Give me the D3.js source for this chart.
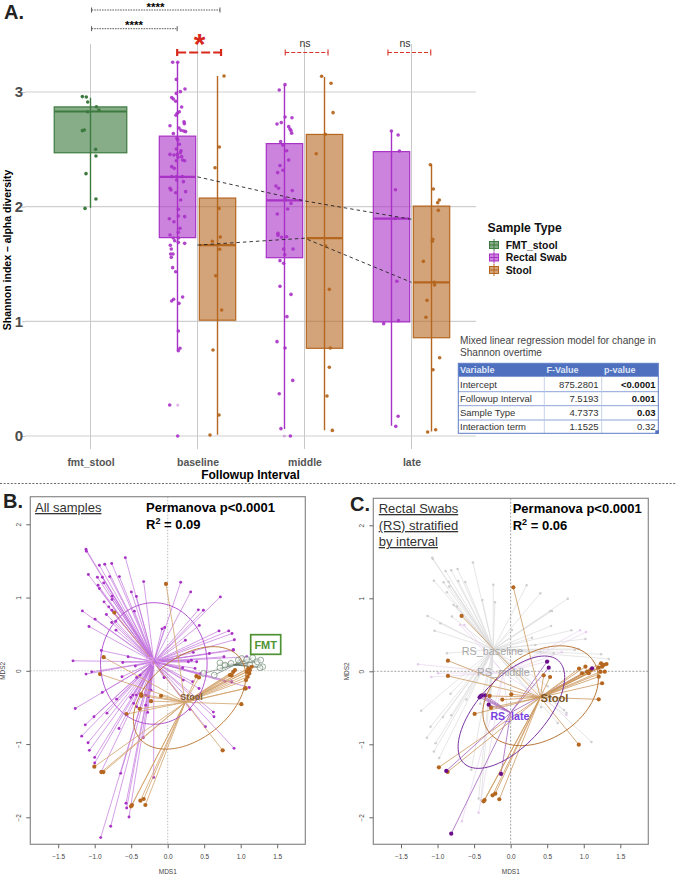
<!DOCTYPE html>
<html><head><meta charset="utf-8">
<script src="https://cdn.jsdelivr.net/npm/d3@7"></script>
<style>html,body{margin:0;padding:0;background:#fff}svg{display:block}text{font-family:"Liberation Sans",Arial,sans-serif}</style>
</head><body><svg id="c" width="676" height="875"></svg>
<script>
/* ---------- Panel A data ---------- */
const categories=['fmt_stool','baseline','middle','late'];
const yTicksA=[0,1,2,3];
const fmtBox={q1:2.47,med:2.83,q3:2.87,lo:1.99,hi:2.95};
const rsQ1=[1.73,1.555,.995], rsMed=[2.26,2.055,1.895], rsQ3=[2.615,2.55,2.48], rsLo=[.745,.06,.09], rsHi=[3.26,3.06,2.66];
const stQ1=[1.01,.765,.857], stMed=[1.665,1.725,1.34], stQ3=[2.075,2.63,2.005], stLo=[.01,.05,.04], stHi=[3.14,3.13,2.37];
const trendRS=[2.26,2.05,1.89], trendStool=[1.665,1.725,1.34];
const fmtPts=[[-.076,2.96],[-.039,2.956],[-.026,2.913],[.055,2.872],[.079,2.843],[-.026,2.828],[-.076,2.663],[-.058,2.669],[.048,2.5],[.051,2.442],[-.042,2.288],[.051,2.067],[-.051,1.985]];
const rsPts=[[.768,3.259],[.815,3.259],[.802,3.11],[.883,3.026],[.84,3.003],[.802,2.988],[.759,2.951],[.774,2.939],[.796,2.919],[.852,2.869],[.83,2.828],[.811,2.814],[.799,2.797],[.874,2.741],[.877,2.724],[.743,2.706],[.827,2.686],[.846,2.666],[.871,2.66],[.889,2.654],[.774,2.637],[.808,2.596],[.815,2.581],[.83,2.544],[.802,2.503],[.846,2.488],[.743,2.456],[.78,2.451],[.84,2.471],[.811,2.456],[.852,2.436],[.818,2.43],[.861,2.407],[.88,2.401],[.802,2.401],[.759,2.349],[.783,2.334],[.759,2.262],[.805,2.262],[.858,2.262],[.805,2.233],[.868,2.218],[.743,2.16],[.752,2.145],[.889,2.131],[.796,2.122],[.843,2.058],[.821,1.977],[.821,1.919],[.88,1.913],[.737,1.895],[.78,1.869],[.836,1.811],[.821,1.776],[.743,1.753],[.774,1.727],[.821,1.727],[.787,1.703],[.821,1.689],[.88,1.68],[.746,1.663],[.755,1.631],[.749,1.587],[.771,1.587],[.755,1.558],[.768,1.468],[.796,1.433],[.861,1.212],[.777,1.192],[.759,1.177],[.827,1.157],[.821,.916],[.836,.765],[.821,.744],[.74,.27],[.815,0],
[1.818,3.064],[1.764,3.017],[1.883,2.776],[1.818,2.782],[1.743,2.721],[1.783,2.733],[1.852,2.698],[1.864,2.677],[1.874,2.663],[1.88,2.64],[1.777,2.567],[1.796,2.538],[1.833,2.488],[1.771,2.358],[1.749,2.297],[1.799,2.317],[1.852,2.407],[1.733,2.18],[1.758,2.16],[1.886,2.14],[1.746,1.936],[1.874,2.029],[1.818,2.073],[1.843,1.98],[1.752,1.767],[1.752,1.75],[1.786,1.733],[1.833,1.738],[1.805,1.631],[1.893,1.631],[1.815,1.581],[1.771,1.529],[1.805,1.506],[1.771,1.305],[1.874,1.235],[1.836,1.041],[1.743,.823],[1.818,.767],[1.89,.485],[1.764,.369],[1.78,.064],[1.868,0],
[2.812,2.66],[2.875,2.625],[2.887,2.485],[2.85,2.148],[2.847,1.898],[2.863,1.349],[2.878,1.006],[2.74,.98],[2.875,.172],[2.853,.084]];
const rsFaint=[[.815,.27],[1.812,0]];
const stPts=[[1.248,3.14],[1.204,2.52],[1.164,2.34],[1.201,1.985],[1.213,1.735],[1.139,1.698],[1.207,1.628],[1.17,1.398],[1.226,1.099],[1.145,.75],[1.201,.183],[1.117,.009],
[2.16,3.137],[2.248,3.076],[2.267,2.82],[2.195,2.631],[2.11,2.462],[2.198,1.657],[2.232,1.279],[2.241,.767],[2.232,.599],[2.21,.349],[2.26,.049],
[3.176,2.366],[3.204,2.154],[3.26,2.058],[3.245,2.035],[3.251,1.968],[3.198,1.715],[3.195,1.698],[3.111,1.523],[3.213,1.34],[3.216,1.317],[3.145,1.183],[3.135,1.035],[3.263,.683],[3.201,.578],[3.151,.035],[3.226,.055]];
const starBrackets=[[.01,1.21,'****'],[.01,.81,'****']];
const redBrackets=[[.81,1.22,'*'],[1.82,2.22,'ns'],[2.78,3.18,'ns']];
const legendNames=['FMT_stool','Rectal Swab','Stool'];
const tableTitle=['Mixed linear regression model for change in','Shannon overtime'];
const tableHead=['Variable','F-Value','p-value'];
const tableVars=['Intercept','Followup Interval','Sample Type','Interaction term'];
const tableF=['875.2801','7.5193','4.7373','1.1525'];
const tableP=['<0.0001','0.001','0.03','0.32'];

/* ---------- Panel B data ---------- */
const mdsTicksX=[-1.5,-1,-.5,0,.5,1,1.5], mdsTicksY=[-2,-1,0,1,2];
const bCenters={rs:[-.19,.123],stool:[.24,-.43],fmt:[.92,.08]};
const bRS=[[-1.119,1.659],[-1.114,1.632],[-.58,1.545],[-.936,1.441],[-.863,1.455],[-.767,1.464],[-1.087,1.314],[-.963,1.277],[-.895,1.277],[-.795,1.286],[-.662,1.286],[-.329,1.218],[.178,1.209],[-.954,1.168],[-.936,1.123],[-.877,1.2],[.315,1.077],[-.498,1.077],[-.429,1.014],[-.763,1.018],[-.763,.973],[-.872,.941],[-1.169,.818],[-.808,.873],[-.763,.827],[-.457,.814],[.42,.832],[.489,.827],[.721,1.009],[-.995,.705],[-.84,.768],[-.767,.659],[-.712,.677],[-1.078,.605],[-.708,.555],[-.041,.591],[-.078,.573],[.703,.545],[.836,.545],[.881,.509],[.242,.418],[.913,.423],[.9,.291],[.571,.236],[-.909,.277],[-.543,.191],[-1.297,.136],[-.616,.114],[-.443,.064],[-1.041,-.014],[-1.119,-.045],[.324,.145],[.397,.123],[.283,.123],[.205,.041],[.433,.62],[.899,.279],[.351,.251],[.771,.191],[1.082,.191],[.374,.033],[.452,-.036],
[-.626,-.082],[-.425,-.09],[-.379,-.059],[-.05,-.09],[-.896,-.295],[-.699,-.387],[-.507,-.363],[-.479,-.332],[-.43,-.332],[-.301,-.332],[-.229,-.264],[-.301,-.469],[-.466,-.445],[-.274,-.568],[-1.266,-.514],[-1.01,-.628],[-.832,-.578],[-1.129,-.738],[-.667,-.787],[-1.178,-.892],[-.334,-.915],[-1.073,-1.086],[-1.091,-.982],[-1,-1.182],[-1,-1.259],[-.909,-1.373],[-.644,-1.4],[-.192,-1.455],[-.571,-1.809],[-.562,-1.873],[-.53,-1.995],[-.781,-2.123],[-.918,-2.277],
[.214,-.127],[.342,-.15],[.785,-.15],[.877,-.15],[1.118,-.227],[.305,-.527],[.625,-.564],[.634,-.628],[.516,-.764],[.909,-1.059],[.429,-.241],[-.046,-.091],[-.425,-.491],[-.265,-.355]];
const bStool=[[-.023,1.186],[-.731,.795],[-.877,.186],[-.927,-.045],[.393,-.073],[.429,-.09],[-.361,-.341],[-.365,-.318],[-.091,-.341],[-.228,-.414],[-.384,-.518],[-.566,-.591],[1.009,-.455],[1.068,-.241],[.753,-1.086],[-1.005,-1.309],[-.909,-1.382],[-.881,-1.382],[-.489,-1.832],[-.502,-1.85],[-.374,-1.773],[-.329,-1.75],[-.306,-1.832],[.899,-.014],[.922,.01],[.877,-.059],[.853,-.059],[1.104,.033],[1.151,.055],[1.127,.01],[1.082,-.014],[1.118,-.036],[1.096,-.082],[1.073,-.127],[1.059,-.24]];
const bFMT=[[.716,.109],[.716,.041],[.785,.078],[.867,.101],[.967,.146],[1.014,.169],[1.082,.156],[1.164,.178],[1.227,.123],[1.274,.146],[1.301,.055],[1.264,.041],[1.127,.078],[.488,-.036],[.638,-.059]];
/* ellipse: centre x, centre y, semi-major, semi-minor, tilt in degrees */
const bEllipseRS=[-.19,.1,.83,.73,90], bEllipseStool=[.3,-.37,.88,.555,38.6];

/* ---------- Panel C data ---------- */
const cCenters={base:[-.24,.3],mid:[-.1,-.02],late:[0,-.566],stool:[.406,-.356]};
const cBaseline=[[-1.073,1.557],[-1.064,1.538],[-.516,1.489],[-.89,1.374],[-.813,1.384],[-.726,1.402],[-1.05,1.242],[-.918,1.219],[-.849,1.228],[-.717,1.237],[-.621,1.224],[-.237,1.187],[.219,1.178],[-.84,1.16],[-.872,1.082],[.406,1.068],[-.388,.977],[-.215,.945],[.781,.995],[-.78,.909],[-.735,.886],[-1.137,.758],[-.963,.658],[-.804,.749],[.543,.826],[.566,.826],[-1.041,.557],[.018,.566],[.553,.621],[.831,.562],[1.023,.443],[.292,.461],[-.872,.247],[.877,.292],[.932,.306],[.589,.247],[.406,.269],[.338,.361],[1.342,.169],[1.237,.233],
[-1.224,-.539],[-1.096,-.758],[-1.146,-.909],[-1.027,-.986],[-1.05,-1.1],[-.977,-1.187],[-.927,-.626],[-.813,-.603],[-.822,-.306],[-.607,-.388],[-.438,-1.744],[-.539,-1.347],[-.406,-1.767],[.644,-.708],[.731,-.53],[.763,-.571],[1.105,-.968],[.416,-.493],[.507,-.205],[-.279,-.329],[-.279,-.511],[-.416,-.443]];
const cMiddle=[[.95,.562],[1.032,.539],[-.689,.635],[-.635,.635],[-1.267,.096],[-1.085,-.078],[-.993,-.027],[.699,.26],[.521,.142],[-.438,-1.936],[-.667,-2.055],[-.027,-.694],[.763,-.6]];
const cLate=[[-.425,-.356],[-.393,-.329],[-.347,-.329],[-.41,-.34],[-.301,-.457],[-.881,-1.365],[-.132,-1.406],[-.813,-2.224],[.498,.132],[.521,.05],[1.114,.041]];
const cStool=[[.037,1.151],[-.671,.758],[-.858,.146],[-.858,-.064],[.452,-.055],[.539,-.078],[.936,.037],[1.023,.064],[1.046,-.005],[1.091,.018],[.977,-.027],[1.068,-.027],[1.237,.11],[1.311,.1],[1.251,.064],[1.274,.087],[1.205,.05],[1.228,-.005],[1.288,-.005],[1.205,-.073],[1.251,-.164],[-.288,-.338],[.009,-.315],[-.114,-.388],[-.269,-.498],[-.493,-.584],[1.205,-.384],[.932,-1.005],[-.982,-1.315],[-.863,-1.379],[-.155,-1.753],[-.21,-1.676],[-.247,-1.699],[-.356,-1.763],[-.37,-1.781]];
const cEllipseStool=[.41,-.335,.864,.588,33.5], cEllipseLate=[.01,-.56,.955,.46,47.5];

/* ---------- palette ---------- */
const GREEN='#3d7a3f', PURPLE='#a831c6', ORANGE='#b5661f';
const svg=d3.select('#c');
const FONT='"Liberation Sans",Arial,sans-serif';
function txt(g,x,y,s,o={}){const t=g.append('text').attr('x',x).attr('y',y).text(s)
  .attr('font-size',o.size||10).attr('fill',o.fill||'#000').attr('font-weight',o.weight||'normal')
  .attr('text-anchor',o.anchor||'start');
  if(o.under)t.style('text-decoration','underline');
  if(o.rot!=null)t.attr('transform',`rotate(${o.rot} ${x} ${y})`);
  if(o.base)t.attr('dominant-baseline',o.base);
  return t;}

/* ============ Panel A ============ */
const A=svg.append('g');
const xA=d3.scaleLinear().domain([0,3]).range([90.5,411.5]);
const yA=d3.scaleLinear().domain([0,3]).range([436,92]);
const leftA=25,rightA=476,topA=44,botA=449;
A.selectAll('.gh').data(yTicksA).join('line').attr('x1',leftA).attr('x2',rightA)
 .attr('y1',d=>yA(d)).attr('y2',d=>yA(d)).attr('stroke','#cfcfcf').attr('stroke-width',1.1);
A.selectAll('.gv').data(categories).join('line').attr('x1',(d,i)=>xA(i)).attr('x2',(d,i)=>xA(i))
 .attr('y1',topA).attr('y2',botA).attr('stroke','#c9c9c9').attr('stroke-width',1);
const axL=d3.axisLeft(yA).tickValues(yTicksA).tickSize(3).tickFormat(d3.format('d'));
A.append('g').attr('transform',`translate(${leftA},0)`).call(axL).call(g=>{
  g.select('.domain').remove();g.selectAll('line').attr('stroke','#bbb');
  g.selectAll('text').attr('font-size',15).attr('font-weight','bold').attr('fill','#4d4d4d').attr('font-family',FONT).attr('x',-2);});
const axB=d3.axisBottom(xA).tickValues([0,1,2,3]).tickSize(0).tickFormat(i=>categories[i]);
A.append('g').attr('transform',`translate(0,${botA+6.5})`).call(axB).call(g=>{
  g.select('.domain').remove();
  g.selectAll('text').attr('font-size',10.5).attr('font-weight','bold').attr('fill','#555').attr('font-family',FONT).attr('dy','.72em');});
txt(A,250.5,478.5,'Followup Interval',{size:12,weight:'bold',anchor:'middle'});
txt(A,11,250,'Shannon index \u2013 alpha diversity',{size:10.5,weight:'bold',anchor:'middle',rot:-90});

function box(g,cx,hw,q1,med,q3,lo,hi,col,fill){
  g.append('line').attr('x1',xA(cx)).attr('x2',xA(cx)).attr('y1',yA(lo)).attr('y2',yA(hi)).attr('stroke',col).attr('stroke-width',1.4);
  g.append('rect').attr('x',xA(cx-hw)).attr('width',xA(cx+hw)-xA(cx-hw)).attr('y',yA(q3)).attr('height',yA(q1)-yA(q3))
   .attr('fill',fill).attr('stroke',col).attr('stroke-width',1.2);
  g.append('line').attr('x1',xA(cx-hw)).attr('x2',xA(cx+hw)).attr('y1',yA(med)).attr('y2',yA(med)).attr('stroke',col).attr('stroke-width',2.2);
}
const dodge=.187,hwN=.17;
box(A,0,.339,fmtBox.q1,fmtBox.med,fmtBox.q3,fmtBox.lo,fmtBox.hi,GREEN,'rgba(61,122,63,.62)');
rsMed.forEach((m,i)=>box(A,i+1-dodge,hwN,rsQ1[i],m,rsQ3[i],rsLo[i],rsHi[i],PURPLE,'rgba(168,49,198,.6)'));
stMed.forEach((m,i)=>box(A,i+1+dodge,hwN,stQ1[i],m,stQ3[i],stLo[i],stHi[i],ORANGE,'rgba(181,102,31,.6)'));
function dots(g,data,xs,ys,r,fill,op){g.selectAll(null).data(data).join('circle').attr('cx',d=>xs(d[0])).attr('cy',d=>ys(d[1])).attr('r',r).attr('fill',fill).attr('fill-opacity',op==null?1:op);}
dots(A,fmtPts,xA,yA,1.8,GREEN);
dots(A,rsPts,xA,yA,1.8,PURPLE,.9);
dots(A,rsFaint,xA,yA,1.6,PURPLE,.35);
dots(A,stPts,xA,yA,1.8,ORANGE,.95);
const trendLine=d3.line().x((d,i)=>xA(i+1)).y(d=>yA(d));
[trendRS,trendStool].forEach(t=>A.append('path').attr('d',trendLine(t)).attr('fill','none').attr('stroke','#222').attr('stroke-width',.9).attr('stroke-dasharray','3.5 3'));
/* brackets */
function bracket(g,b,y,col,w,dash,cap){
  g.append('line').attr('x1',xA(b[0])).attr('x2',xA(b[1])).attr('y1',y).attr('y2',y).attr('stroke',col).attr('stroke-width',w).attr('stroke-dasharray',dash);
  [b[0],b[1]].forEach(v=>g.append('line').attr('x1',xA(v)).attr('x2',xA(v)).attr('y1',y-cap).attr('y2',y+cap).attr('stroke',col).attr('stroke-width',w));
}
bracket(A,starBrackets[0],10,'#333',.8,'1.6 1',2.5);
bracket(A,starBrackets[1],28.7,'#333',.8,'1.6 1',2.5);
txt(A,155.5,10.5,starBrackets[0][2],{size:11.5,weight:'bold',anchor:'middle'});
txt(A,134,29,starBrackets[1][2],{size:11.5,weight:'bold',anchor:'middle'});
bracket(A,redBrackets[0],52.5,'#d8281c',2.2,'9 3',3.5);
bracket(A,redBrackets[1],52.5,'#d8322a',1.1,'4 2',3);
bracket(A,redBrackets[2],52.5,'#d8322a',1.1,'4 2',3);
txt(A,199.5,54,redBrackets[0][2],{size:30,weight:'bold',anchor:'middle',fill:'#d8281c'});
txt(A,305,47,redBrackets[1][2],{size:10.5,anchor:'middle',fill:'#333'});
txt(A,405,47,redBrackets[2][2],{size:10.5,anchor:'middle',fill:'#333'});
txt(A,4,19,'A.',{size:20,weight:'bold',fill:'#222'});
/* legend */
const L=svg.append('g');
txt(L,487.5,232,'Sample Type',{size:12.2,weight:'bold',fill:'#111'});
const legendCols=[[GREEN,'rgba(61,122,63,.62)'],[PURPLE,'rgba(168,49,198,.6)'],[ORANGE,'rgba(181,102,31,.6)']];
legendNames.forEach((n,i)=>{const y=245+i*12.5;
  L.append('line').attr('x1',494).attr('x2',494).attr('y1',y-6).attr('y2',y+6).attr('stroke',legendCols[i][0]);
  L.append('rect').attr('x',489.5).attr('y',y-3.5).attr('width',9).attr('height',7).attr('fill',legendCols[i][1]).attr('stroke',legendCols[i][0]);
  L.append('line').attr('x1',489.5).attr('x2',498.5).attr('y1',y).attr('y2',y).attr('stroke',legendCols[i][0]);
  txt(L,505.7,y+3.7,n,{size:10.4,weight:'bold',fill:'#111'});});
/* table */
const T=svg.append('g');
tableTitle.forEach((s,i)=>txt(T,460,344+i*12.4,s,{size:10.1,fill:'#444'}));
const tX=[458.3,544.3,601.7,658.3],tY=[363.3,376.7,391.7,405.7,420,433.3];
T.append('rect').attr('x',tX[0]).attr('y',tY[0]).attr('width',tX[3]-tX[0]).attr('height',tY[1]-tY[0]).attr('fill','#4f70bf');
tableHead.forEach((h,i)=>txt(T,[460,546.5,604][i],tY[1]-3.5,h,{size:9,weight:'bold',fill:'#dfe6f6'}));
tableVars.forEach((v,i)=>{const b=tY[i+2]-3.6;
  txt(T,460,b,v,{size:9.5,fill:'#333'});
  txt(T,598.5,b,tableF[i],{size:9.5,fill:'#333',anchor:'end'});
  txt(T,655.5,b,tableP[i],{size:9.5,fill:i<3?'#111':'#333',weight:i<3?'bold':'normal',anchor:'end'});});
tY.slice(2,5).forEach(y=>T.append('line').attr('x1',tX[0]).attr('x2',tX[3]).attr('y1',y).attr('y2',y).attr('stroke','#8da3d8').attr('stroke-width',1));
[tX[1],tX[2]].forEach(x=>T.append('line').attr('x1',x).attr('x2',x).attr('y1',tY[1]).attr('y2',tY[5]).attr('stroke','#b8c6e6').attr('stroke-width',.8));
T.append('rect').attr('x',tX[0]).attr('y',tY[0]).attr('width',tX[3]-tX[0]).attr('height',tY[5]-tY[0]).attr('fill','none').attr('stroke','#5d7cc6').attr('stroke-width',1);
T.append('rect').attr('x',tX[3]-3).attr('y',tY[5]-3).attr('width',3.5).attr('height',3.5).attr('fill','#4f70bf');
/* separator */
svg.append('line').attr('x1',0).attr('x2',676).attr('y1',483.5).attr('y2',483.5).attr('stroke','#444').attr('stroke-width',.8).attr('stroke-dasharray','2 1.6');

/* ============ Panels B, C shared ============ */
function frame(g,xs,ys,r,zeroCol,zeroDash,zeroW,ylabX,tickLabX){
  g.append('line').attr('x1',xs(0)).attr('x2',xs(0)).attr('y1',r.top).attr('y2',r.bottom).attr('stroke',zeroCol).attr('stroke-dasharray',zeroDash).attr('stroke-width',zeroW);
  g.append('line').attr('x1',r.left).attr('x2',r.right).attr('y1',ys(0)).attr('y2',ys(0)).attr('stroke',zeroCol).attr('stroke-dasharray',zeroDash).attr('stroke-width',zeroW);
  g.append('rect').attr('x',r.left).attr('y',r.top).attr('width',r.right-r.left).attr('height',r.bottom-r.top).attr('fill','none').attr('stroke','#8a8a8a').attr('stroke-width',1.2);
  const ab=d3.axisBottom(xs).tickValues(mdsTicksX).tickSize(4).tickFormat(d3.format('.1f'));
  g.append('g').attr('transform',`translate(0,${r.bottom})`).call(ab).call(a=>{a.select('.domain').remove();
    a.selectAll('line').attr('stroke','#666');
    a.selectAll('text').attr('font-size',6.5).attr('fill','#444').attr('font-family',FONT).attr('y',10);});
  const al=d3.axisLeft(ys).tickValues(mdsTicksY).tickSize(4).tickFormat(d3.format('d'));
  g.append('g').attr('transform',`translate(${r.left},0)`).call(al).call(a=>{a.select('.domain').remove();
    a.selectAll('line').attr('stroke','#666');
    a.selectAll('text').attr('font-size',6.5).attr('fill','#444').attr('font-family',FONT)
     .attr('x',0).attr('dy',0).attr('text-anchor','middle')
     .attr('transform',d=>`translate(${tickLabX-r.left},0) rotate(-90)`).attr('dominant-baseline','middle');});
  txt(g,(r.left+r.right)/2,874,'MDS1',{size:6.5,fill:'#444',anchor:'middle'});
  txt(g,ylabX,ys(0),'MDS2',{size:6.5,fill:'#444',anchor:'middle',rot:-90,base:'middle'});
}
function spider(g,pts,c,xs,ys,col,w,op){
  g.selectAll(null).data(pts).join('line').attr('x1',xs(c[0])).attr('y1',ys(c[1])).attr('x2',d=>xs(d[0])).attr('y2',d=>ys(d[1]))
   .attr('stroke',col).attr('stroke-width',w).attr('stroke-opacity',op);
}
function ellipse(g,e,xs,ys,col,w){
  const [cx,cy,a,b,deg]=e,th=deg*Math.PI/180;
  const pts=d3.range(0,361,4).map(t=>{const u=t*Math.PI/180;
    return [cx+a*Math.cos(th)*Math.cos(u)-b*Math.sin(th)*Math.sin(u),cy+a*Math.sin(th)*Math.cos(u)+b*Math.cos(th)*Math.sin(u)];});
  g.append('path').attr('d',d3.line().x(d=>xs(d[0])).y(d=>ys(d[1]))(pts)).attr('fill','none').attr('stroke',col).attr('stroke-width',w);
}
function perm(g,x,y1,y2,r2){
  txt(g,x,y1,'Permanova p<0.0001',{size:13,weight:'bold'});
  const t=txt(g,x,y2,'R',{size:13,weight:'bold'});
  t.append('tspan').text('2').attr('font-size',9).attr('dy',-5);
  t.append('tspan').text(' = '+r2).attr('dy',5);
}

/* ============ Panel B ============ */
const B=svg.append('g');
const xB=d3.scaleLinear().domain([-1.5,1.5]).range([58.2,277.2]);
const yB=d3.scaleLinear().domain([-2,2]).range([817.3,524.3]);
frame(B,xB,yB,{left:30.3,right:305.3,top:496.7,bottom:844.3},'#c4c4c4','1.5 1.5',1.1,3.5,19);
spider(B,bRS,bCenters.rs,xB,yB,'#c071dc',.85,.8);
dots(B,bRS,xB,yB,1.45,PURPLE);
spider(B,bFMT,bCenters.fmt,xB,yB,'#5f6f62',.8,.8);
B.selectAll(null).data(bFMT).join('circle').attr('cx',d=>xB(d[0])).attr('cy',d=>yB(d[1])).attr('r',2.9).attr('fill','#fff').attr('fill-opacity',.5).attr('stroke','#6f8a72').attr('stroke-width',.7);
spider(B,bStool,bCenters.stool,xB,yB,'#d3a36d',.9,.9);
dots(B,bStool,xB,yB,2.1,ORANGE);
ellipse(B,bEllipseRS,xB,yB,'#ab45cc',.9);
ellipse(B,bEllipseStool,xB,yB,'#b5702c',.9);
txt(B,xB(-.187),yB(.123)+4.5,'RS',{size:12.5,fill:'#dd9bee',anchor:'middle'});
txt(B,xB(.325),yB(-.36)+3.2,'Stool',{size:9,weight:'bold',fill:'#7f5b2c',anchor:'middle'});
B.append('rect').attr('x',250.7).attr('y',634.7).attr('width',30).attr('height',19.6).attr('fill','#fff').attr('stroke','#4f9233').attr('stroke-width',1.7);
txt(B,265.7,648.5,'FMT',{size:11,weight:'bold',fill:'#4f9233',anchor:'middle'});
txt(B,3,508,'B.',{size:20,weight:'bold',fill:'#222'});
txt(B,35,512,'All samples',{size:13,fill:'#333',under:true});
perm(B,146,511.7,529,'0.09');

/* ============ Panel C ============ */
const C=svg.append('g');
const xC=d3.scaleLinear().domain([-1.5,1.5]).range([401,620.3]);
const yC=d3.scaleLinear().domain([-2,2]).range([817.3,525.3]);
frame(C,xC,yC,{left:373.3,right:648.3,top:498.3,bottom:844.3},'#8d8d8d','2 1.5',.8,347,362);
spider(C,cBaseline,cCenters.base,xC,yC,'#dcdcdc',.8,.9);
dots(C,cBaseline,xC,yC,1.25,'#cfcfcf');
spider(C,cMiddle,cCenters.mid,xC,yC,'#e8d6ee',.8,.9);
dots(C,cMiddle,xC,yC,1.25,'#e6cbee');
spider(C,cLate,cCenters.late,xC,yC,'#a665bd',.9,.9);
spider(C,cStool,cCenters.stool,xC,yC,'#cc9a60',.9,.9);
dots(C,cStool,xC,yC,2.1,ORANGE);
dots(C,cLate,xC,yC,2.1,'#6a0d8c');
ellipse(C,cEllipseStool,xC,yC,'#b5702c',.95);
ellipse(C,cEllipseLate,xC,yC,'#74289c',.95);
txt(C,xC(-.25),yC(.27)+3.8,'RS_baseline',{size:10.8,fill:'#a8a8a8',anchor:'middle'});
txt(C,xC(-.1),yC(-.018)+3.8,'RS_middle',{size:10.8,fill:'#a8a8a8',anchor:'middle'});
txt(C,xC(-.01),yC(-.615)+3.8,'RS_late',{size:10.6,weight:'bold',fill:'#7a3fe2',anchor:'middle'});
txt(C,xC(.6),yC(-.36)+4,'Stool',{size:11.2,weight:'bold',fill:'#7a5524',anchor:'middle'});
txt(C,350,511,'C.',{size:20,weight:'bold',fill:'#222'});
['Rectal Swabs','(RS) stratified','by interval'].forEach((s,i)=>txt(C,378.7,[513,530,546][i],s,{size:13,fill:'#333',under:true}));
perm(C,512.7,513,530,'0.06');
</script></body></html>
